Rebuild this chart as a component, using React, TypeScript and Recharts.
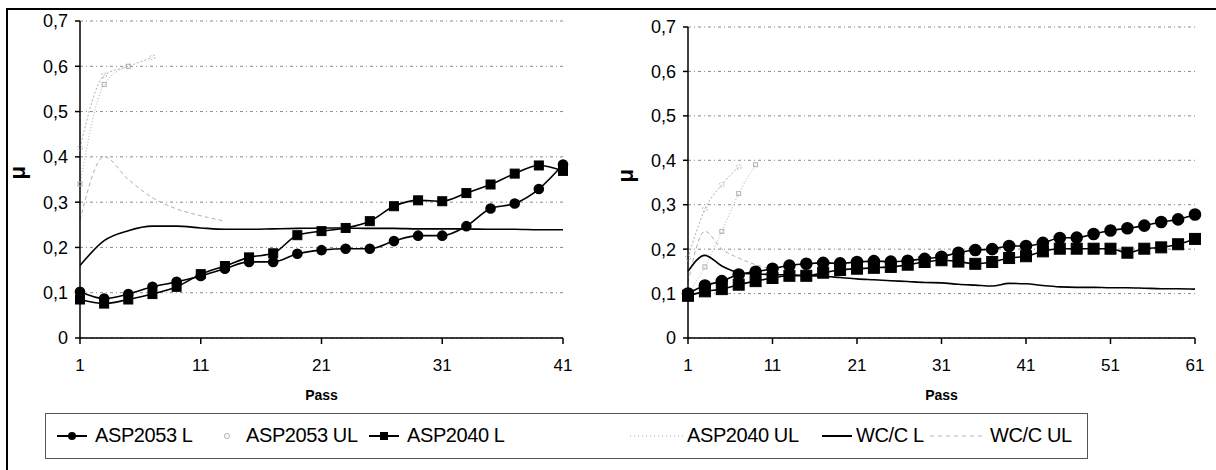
import React from 'react';
import { LineChart, Line, XAxis, YAxis, CartesianGrid } from 'recharts';

// Left panel: passes 1..41 (every second pass measured)
const leftPasses = [1, 3, 5, 7, 9, 11, 13, 15, 17, 19, 21, 23, 25, 27, 29, 31, 33, 35, 37, 39, 41];
const leftAsp2053L = [0.102, 0.087, 0.097, 0.113, 0.124, 0.137, 0.153, 0.168, 0.168, 0.186, 0.194, 0.197, 0.197, 0.214, 0.226, 0.226, 0.247, 0.286, 0.297, 0.329, 0.383];
const leftAsp2053UL = [0.42, 0.58, 0.6, 0.62];
const leftAsp2040L = [0.085, 0.076, 0.085, 0.097, 0.113, 0.141, 0.159, 0.178, 0.187, 0.227, 0.236, 0.243, 0.258, 0.291, 0.304, 0.302, 0.32, 0.339, 0.363, 0.381, 0.369];
const leftAsp2040UL = [0.34, 0.56, 0.6];
const leftWcL = [0.16, 0.215, 0.237, 0.247, 0.247, 0.243, 0.24, 0.24, 0.241, 0.242, 0.243, 0.243, 0.242, 0.242, 0.241, 0.241, 0.241, 0.24, 0.24, 0.239, 0.239];
const leftWcUL = [0.26, 0.4, 0.35, 0.31, 0.285, 0.27, 0.258];
const leftTicks = [1, 11, 21, 31, 41];

// Right panel: passes 1..61
const rightPasses = [1, 3, 5, 7, 9, 11, 13, 15, 17, 19, 21, 23, 25, 27, 29, 31, 33, 35, 37, 39, 41, 43, 45, 47, 49, 51, 53, 55, 57, 59, 61];
const rightAsp2053L = [0.1, 0.118, 0.128, 0.143, 0.149, 0.156, 0.163, 0.167, 0.169, 0.168, 0.171, 0.173, 0.172, 0.174, 0.178, 0.183, 0.192, 0.198, 0.2, 0.207, 0.207, 0.214, 0.225, 0.226, 0.234, 0.242, 0.247, 0.253, 0.261, 0.267, 0.278];
const rightAsp2053UL = [0.18, 0.29, 0.345, 0.385];
const rightAsp2040L = [0.095, 0.105, 0.11, 0.12, 0.128, 0.135, 0.14, 0.14, 0.147, 0.153, 0.156, 0.158, 0.16, 0.165, 0.171, 0.175, 0.172, 0.167, 0.171, 0.18, 0.184, 0.195, 0.201, 0.201, 0.201, 0.201, 0.192, 0.201, 0.204, 0.211, 0.223];
const rightAsp2040UL = [0.1, 0.16, 0.24, 0.325, 0.39];
const rightWcL = [0.15, 0.186, 0.162, 0.147, 0.144, 0.143, 0.142, 0.141, 0.139, 0.136, 0.133, 0.131, 0.129, 0.127, 0.125, 0.124, 0.121, 0.119, 0.117, 0.123, 0.122, 0.118, 0.115, 0.114, 0.114, 0.113, 0.113, 0.112, 0.111, 0.111, 0.11];
const rightWcUL = [0.125, 0.24, 0.2, 0.18, 0.165, 0.155];
const rightTicks = [1, 11, 21, 31, 41, 51, 61];

const muTicks = [0, 0.1, 0.2, 0.3, 0.4, 0.5, 0.6, 0.7];

const FONT = '"Liberation Sans", Arial, sans-serif';
const LIGHT = '#b0b0b0';

const buildRows = (
  passes: number[],
  a53L: number[], a53UL: number[], a40L: number[], a40UL: number[], wcL: number[], wcUL: number[]
) =>
  passes.map((pass, i) => ({
    pass,
    a53L: a53L[i] ?? null,
    a53UL: a53UL[i] ?? null,
    a40L: a40L[i] ?? null,
    a40UL: a40UL[i] ?? null,
    wcL: wcL[i] ?? null,
    wcUL: wcUL[i] ?? null,
  }));

const leftRows = buildRows(leftPasses, leftAsp2053L, leftAsp2053UL, leftAsp2040L, leftAsp2040UL, leftWcL, leftWcUL);
const rightRows = buildRows(rightPasses, rightAsp2053L, rightAsp2053UL, rightAsp2040L, rightAsp2040UL, rightWcL, rightWcUL);

const fmtMu = (v: number) => (v === 0 ? '0' : v.toFixed(1).replace('.', ','));

const makeSquare = (size: number, fill: string, stroke: string) => (props: any) => {
  const { cx, cy, index } = props;
  if (cx == null || cy == null || isNaN(cy)) return <g key={`s${index}`} />;
  return (
    <rect key={`s${index}`} x={cx - size / 2} y={cy - size / 2} width={size} height={size} fill={fill} stroke={stroke} />
  );
};

interface PanelProps {
  rows: any[];
  left: number;
  width: number;
  top: number;
  plotHeight: number;
  rightMargin: number;
  maxPass: number;
  ticks: number[];
  marker: number;
}

const Panel: React.FC<PanelProps> = ({ rows, left, width, top, plotHeight, rightMargin, maxPass, ticks, marker }) => (
  <div style={{ position: 'absolute', left, top: 0 }}>
    <LineChart
      width={width}
      height={top + plotHeight + 64}
      data={rows}
      margin={{ top, right: rightMargin, left: 0, bottom: 0 }}
    >
      <CartesianGrid vertical={false} stroke="#8a8a8a" strokeDasharray="3 3 1 3" />
      <XAxis
        dataKey="pass"
        type="number"
        domain={[1, maxPass]}
        ticks={ticks}
        interval={0}
        height={64}
        stroke="#000"
        strokeWidth={1.5}
        tickSize={6}
        tickMargin={15}
        tick={{ fill: '#000', fontSize: 17, fontFamily: FONT }}
        label={{ value: 'Pass', position: 'insideBottom', offset: 2, fill: '#000', fontSize: 14, fontWeight: 'bold', fontFamily: FONT }}
      />
      <YAxis
        type="number"
        domain={[0, 0.7]}
        ticks={muTicks}
        width={80}
        stroke="#000"
        strokeWidth={1.5}
        tickSize={5}
        tickMargin={7}
        tickFormatter={fmtMu}
        tick={{ fill: '#000', fontSize: 18, fontFamily: FONT }}
        label={{ value: 'μ', angle: -90, position: 'insideLeft', offset: 17, fill: '#000', fontSize: 22, fontWeight: 'bold', fontFamily: FONT }}
      />
      <Line dataKey="wcUL" type="monotone" stroke={LIGHT} strokeWidth={1} strokeDasharray="4 3" dot={false} isAnimationActive={false} />
      <Line dataKey="a40UL" type="monotone" stroke={LIGHT} strokeWidth={1} strokeDasharray="1 2" dot={makeSquare(4, 'none', LIGHT)} isAnimationActive={false} />
      <Line dataKey="a53UL" type="monotone" stroke={LIGHT} strokeWidth={1} strokeDasharray="2 2" dot={{ r: 2.5, fill: 'none', stroke: LIGHT }} isAnimationActive={false} />
      <Line dataKey="wcL" type="monotone" stroke="#000" strokeWidth={1.6} dot={false} isAnimationActive={false} />
      <Line dataKey="a40L" type="monotone" stroke="#000" strokeWidth={1.6} dot={makeSquare(marker * 2, '#000', '#000')} isAnimationActive={false} />
      <Line dataKey="a53L" type="monotone" stroke="#000" strokeWidth={1.6} dot={{ r: marker, fill: '#000', stroke: '#000' }} isAnimationActive={false} />
    </LineChart>
  </div>
);

const legendItems = [
  { name: 'ASP2053 L', icon: 'circle', x: 57, tx: 95 },
  { name: 'ASP2053 UL', icon: 'lightCircle', x: 212, tx: 246 },
  { name: 'ASP2040 L', icon: 'square', x: 369, tx: 407 },
  { name: 'ASP2040 UL', icon: 'lightDot', x: 630, tx: 687 },
  { name: 'WC/C L', icon: 'line', x: 822, tx: 856 },
  { name: 'WC/C UL', icon: 'lightDash', x: 930, tx: 990 },
];

const LegendIcon: React.FC<{ kind: string }> = ({ kind }) => {
  const w = kind === 'lightDot' || kind === 'lightDash' ? 56 : 30;
  return (
    <svg width={w} height={14} style={{ display: 'block' }}>
      {kind === 'circle' && (
        <>
          <line x1={0} y1={7} x2={w} y2={7} stroke="#000" strokeWidth={2} />
          <circle cx={w / 2} cy={7} r={4} fill="#000" />
        </>
      )}
      {kind === 'square' && (
        <>
          <line x1={0} y1={7} x2={w} y2={7} stroke="#000" strokeWidth={2} />
          <rect x={w / 2 - 4} y={3} width={8} height={8} fill="#000" />
        </>
      )}
      {kind === 'line' && <line x1={0} y1={7} x2={w} y2={7} stroke="#000" strokeWidth={2} />}
      {kind === 'lightCircle' && <circle cx={w / 2} cy={7} r={2.5} fill="none" stroke={LIGHT} />}
      {kind === 'lightDot' && <line x1={0} y1={7} x2={w} y2={7} stroke={LIGHT} strokeDasharray="1 3" />}
      {kind === 'lightDash' && <line x1={0} y1={7} x2={w} y2={7} stroke={LIGHT} strokeDasharray="4 4" />}
    </svg>
  );
};

export default function App() {
  return (
    <div
      style={{
        position: 'absolute',
        left: 0,
        top: 0,
        width: 1216,
        height: 470,
        background: '#fff',
        overflow: 'hidden',
        fontFamily: FONT,
      }}
    >
      <div style={{ position: 'absolute', left: 6, top: 8, width: 1220, height: 470, borderLeft: '2px solid #000', borderTop: '2px solid #000' }} />
      <Panel rows={leftRows} left={0} width={600} top={21} plotHeight={317} rightMargin={37} maxPass={41} ticks={leftTicks} marker={4.5} />
      <Panel rows={rightRows} left={608} width={608} top={27} plotHeight={311} rightMargin={21} maxPass={61} ticks={rightTicks} marker={5.5} />
      <div
        style={{
          position: 'absolute',
          left: 45,
          top: 413,
          width: 1041,
          height: 44,
          border: '1px solid #555',
          background: '#fff',
        }}
      >
        {legendItems.map((it) => (
          <React.Fragment key={it.name}>
            <div style={{ position: 'absolute', left: it.x - 46, top: 15 }}>
              <LegendIcon kind={it.icon} />
            </div>
            <div
              style={{
                position: 'absolute',
                left: it.tx - 46,
                top: 9,
                fontSize: 20,
                letterSpacing: -0.4,
                lineHeight: '24px',
                color: '#000',
                whiteSpace: 'nowrap',
              }}
            >
              {it.name}
            </div>
          </React.Fragment>
        ))}
      </div>
    </div>
  );
}
